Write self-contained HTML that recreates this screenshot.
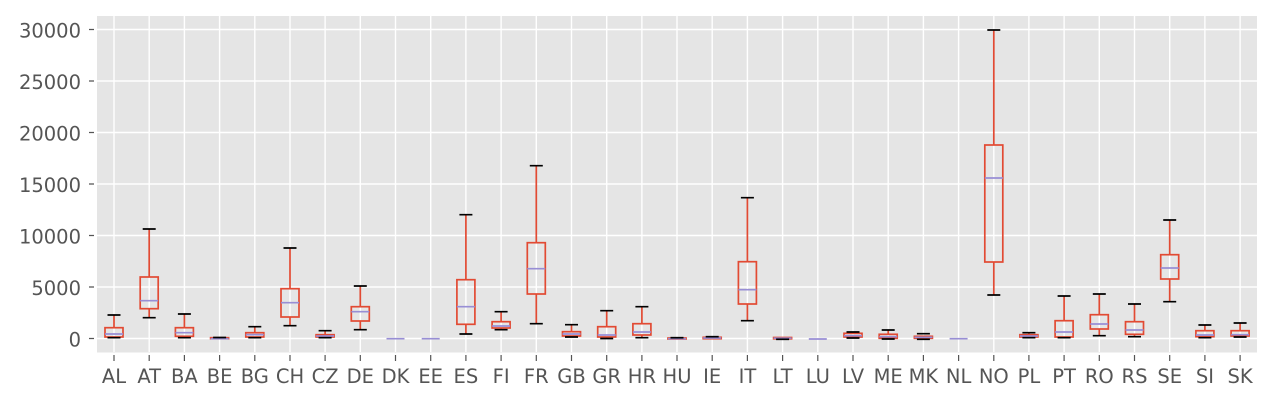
<!DOCTYPE html>
<html><head><meta charset="utf-8"><style>
html,body{margin:0;padding:0;background:#fff;}
svg{display:block;font-family:"DejaVu Sans","Liberation Sans",sans-serif;}
</style></head><body>
<svg width="1273" height="404" viewBox="0 0 1273 404" xmlns="http://www.w3.org/2000/svg">
<rect x="97" y="16" width="1160" height="336.5" fill="#E5E5E5"/>
<g stroke="#fff" stroke-width="1.4">
<line x1="97" x2="1257" y1="338.5" y2="338.5"/><line x1="97" x2="1257" y1="287" y2="287"/><line x1="97" x2="1257" y1="235.5" y2="235.5"/><line x1="97" x2="1257" y1="184" y2="184"/><line x1="97" x2="1257" y1="132.5" y2="132.5"/><line x1="97" x2="1257" y1="81" y2="81"/><line x1="97" x2="1257" y1="29.5" y2="29.5"/>
<line x1="114" x2="114" y1="16" y2="352"/><line x1="149.2" x2="149.2" y1="16" y2="352"/><line x1="184.4" x2="184.4" y1="16" y2="352"/><line x1="219.6" x2="219.6" y1="16" y2="352"/><line x1="254.8" x2="254.8" y1="16" y2="352"/><line x1="290" x2="290" y1="16" y2="352"/><line x1="325.1" x2="325.1" y1="16" y2="352"/><line x1="360.3" x2="360.3" y1="16" y2="352"/><line x1="395.5" x2="395.5" y1="16" y2="352"/><line x1="430.7" x2="430.7" y1="16" y2="352"/><line x1="465.9" x2="465.9" y1="16" y2="352"/><line x1="501.1" x2="501.1" y1="16" y2="352"/><line x1="536.3" x2="536.3" y1="16" y2="352"/><line x1="571.5" x2="571.5" y1="16" y2="352"/><line x1="606.7" x2="606.7" y1="16" y2="352"/><line x1="641.9" x2="641.9" y1="16" y2="352"/><line x1="677" x2="677" y1="16" y2="352"/><line x1="712.2" x2="712.2" y1="16" y2="352"/><line x1="747.4" x2="747.4" y1="16" y2="352"/><line x1="782.6" x2="782.6" y1="16" y2="352"/><line x1="817.8" x2="817.8" y1="16" y2="352"/><line x1="853" x2="853" y1="16" y2="352"/><line x1="888.2" x2="888.2" y1="16" y2="352"/><line x1="923.4" x2="923.4" y1="16" y2="352"/><line x1="958.6" x2="958.6" y1="16" y2="352"/><line x1="993.8" x2="993.8" y1="16" y2="352"/><line x1="1028.9" x2="1028.9" y1="16" y2="352"/><line x1="1064.1" x2="1064.1" y1="16" y2="352"/><line x1="1099.3" x2="1099.3" y1="16" y2="352"/><line x1="1134.5" x2="1134.5" y1="16" y2="352"/><line x1="1169.7" x2="1169.7" y1="16" y2="352"/><line x1="1204.9" x2="1204.9" y1="16" y2="352"/><line x1="1240.1" x2="1240.1" y1="16" y2="352"/>
</g>
<g stroke="#555" stroke-width="1.2">
<path d="M114 355V361M149.2 355V361M184.4 355V361M219.6 355V361M254.8 355V361M290 355V361M325.1 355V361M360.3 355V361M395.5 355V361M430.7 355V361M465.9 355V361M501.1 355V361M536.3 355V361M571.5 355V361M606.7 355V361M641.9 355V361M677 355V361M712.2 355V361M747.4 355V361M782.6 355V361M817.8 355V361M853 355V361M888.2 355V361M923.4 355V361M958.6 355V361M993.8 355V361M1028.9 355V361M1064.1 355V361M1099.3 355V361M1134.5 355V361M1169.7 355V361M1204.9 355V361M1240.1 355V361"/>
<path d="M89 338.5H94M89 287H94M89 235.5H94M89 184H94M89 132.5H94M89 81H94M89 29.5H94"/>
</g>
<g font-size="19.5" fill="#555" text-anchor="end">
<text x="81" y="346.5">0</text><text x="81" y="295">5000</text><text x="81" y="243.5">10000</text><text x="81" y="192">15000</text><text x="81" y="140.5">20000</text><text x="81" y="89">25000</text><text x="81" y="37.5">30000</text>
</g>
<g font-size="19.5" fill="#555" text-anchor="middle">
<text x="114" y="383">AL</text><text x="149.2" y="383">AT</text><text x="184.4" y="383">BA</text><text x="219.6" y="383">BE</text><text x="254.8" y="383">BG</text><text x="290" y="383">CH</text><text x="325.1" y="383">CZ</text><text x="360.3" y="383">DE</text><text x="395.5" y="383">DK</text><text x="430.7" y="383">EE</text><text x="465.9" y="383">ES</text><text x="501.1" y="383">FI</text><text x="536.3" y="383">FR</text><text x="571.5" y="383">GB</text><text x="606.7" y="383">GR</text><text x="641.9" y="383">HR</text><text x="677" y="383">HU</text><text x="712.2" y="383">IE</text><text x="747.4" y="383">IT</text><text x="782.6" y="383">LT</text><text x="817.8" y="383">LU</text><text x="853" y="383">LV</text><text x="888.2" y="383">ME</text><text x="923.4" y="383">MK</text><text x="958.6" y="383">NL</text><text x="993.8" y="383">NO</text><text x="1028.9" y="383">PL</text><text x="1064.1" y="383">PT</text><text x="1099.3" y="383">RO</text><text x="1134.5" y="383">RS</text><text x="1169.7" y="383">SE</text><text x="1204.9" y="383">SI</text><text x="1240.1" y="383">SK</text>
</g>
<g stroke-width="1.7" fill="none">
<g transform="translate(114,0)"><path stroke="#E24A33" d="M0 315V327.7M0 337V337.7"/><rect x="-9" y="327.7" width="18" height="9.3" stroke="#E24A33"/><path stroke="#988ED5" d="M-9 334H9"/><path stroke="#000" d="M-6.5 315H6.5M-6.5 337.7H6.5"/></g>
<g transform="translate(149.2,0)"><path stroke="#E24A33" d="M0 229V277M0 308.7V317.7"/><rect x="-9" y="277" width="18" height="31.7" stroke="#E24A33"/><path stroke="#988ED5" d="M-9 300.7H9"/><path stroke="#000" d="M-6.5 229H6.5M-6.5 317.7H6.5"/></g>
<g transform="translate(184.4,0)"><path stroke="#E24A33" d="M0 314V327.7M0 336.3V337.7"/><rect x="-9" y="327.7" width="18" height="8.6" stroke="#E24A33"/><path stroke="#988ED5" d="M-9 332.7H9"/><path stroke="#000" d="M-6.5 314H6.5M-6.5 337.7H6.5"/></g>
<g transform="translate(219.6,0)"><rect x="-9" y="337.7" width="18" height="1" stroke="#E24A33"/><path stroke="#988ED5" d="M-9 338.7H9"/><path stroke="#000" d="M-6.5 337.5H6.5"/></g>
<g transform="translate(254.8,0)"><path stroke="#E24A33" d="M0 326.7V332.7M0 337V337.7"/><rect x="-9" y="332.7" width="18" height="4.3" stroke="#E24A33"/><path stroke="#988ED5" d="M-9 334.7H9"/><path stroke="#000" d="M-6.5 326.7H6.5M-6.5 337.7H6.5"/></g>
<g transform="translate(290,0)"><path stroke="#E24A33" d="M0 248V288.7M0 317V325.7"/><rect x="-9" y="288.7" width="18" height="28.3" stroke="#E24A33"/><path stroke="#988ED5" d="M-9 302.7H9"/><path stroke="#000" d="M-6.5 248H6.5M-6.5 325.7H6.5"/></g>
<g transform="translate(325.1,0)"><path stroke="#E24A33" d="M0 330.7V334.7"/><rect x="-9" y="334.7" width="18" height="2.3" stroke="#E24A33"/><path stroke="#988ED5" d="M-9 336H9"/><path stroke="#000" d="M-6.5 330.7H6.5M-6.5 337.7H6.5"/></g>
<g transform="translate(360.3,0)"><path stroke="#E24A33" d="M0 286V306.7M0 321V329.7"/><rect x="-9" y="306.7" width="18" height="14.3" stroke="#E24A33"/><path stroke="#988ED5" d="M-9 311.7H9"/><path stroke="#000" d="M-6.5 286H6.5M-6.5 329.7H6.5"/></g>
<g transform="translate(395.5,0)"><path stroke="#988ED5" d="M-9 338.7H9"/></g>
<g transform="translate(430.7,0)"><path stroke="#988ED5" d="M-9 338.7H9"/></g>
<g transform="translate(465.9,0)"><path stroke="#E24A33" d="M0 214.7V279.7M0 324.3V334"/><rect x="-9" y="279.7" width="18" height="44.6" stroke="#E24A33"/><path stroke="#988ED5" d="M-9 306.7H9"/><path stroke="#000" d="M-6.5 214.7H6.5M-6.5 334H6.5"/></g>
<g transform="translate(501.1,0)"><path stroke="#E24A33" d="M0 311.7V321.7M0 328V329.7"/><rect x="-9" y="321.7" width="18" height="6.3" stroke="#E24A33"/><path stroke="#988ED5" d="M-9 326H9"/><path stroke="#000" d="M-6.5 311.7H6.5M-6.5 329.7H6.5"/></g>
<g transform="translate(536.3,0)"><path stroke="#E24A33" d="M0 165.7V242.7M0 294V323.7"/><rect x="-9" y="242.7" width="18" height="51.3" stroke="#E24A33"/><path stroke="#988ED5" d="M-9 268.7H9"/><path stroke="#000" d="M-6.5 165.7H6.5M-6.5 323.7H6.5"/></g>
<g transform="translate(571.5,0)"><path stroke="#E24A33" d="M0 324.7V331.7M0 336V337"/><rect x="-9" y="331.7" width="18" height="4.3" stroke="#E24A33"/><path stroke="#988ED5" d="M-9 334H9"/><path stroke="#000" d="M-6.5 324.7H6.5M-6.5 337H6.5"/></g>
<g transform="translate(606.7,0)"><path stroke="#E24A33" d="M0 310.7V326.7M0 337V338.7"/><rect x="-9" y="326.7" width="18" height="10.3" stroke="#E24A33"/><path stroke="#988ED5" d="M-9 335H9"/><path stroke="#000" d="M-6.5 310.7H6.5M-6.5 338.5H6.5"/></g>
<g transform="translate(641.9,0)"><path stroke="#E24A33" d="M0 306.7V323.7M0 335V337.7"/><rect x="-9" y="323.7" width="18" height="11.3" stroke="#E24A33"/><path stroke="#988ED5" d="M-9 332H9"/><path stroke="#000" d="M-6.5 306.7H6.5M-6.5 337.7H6.5"/></g>
<g transform="translate(677,0)"><rect x="-9" y="338" width="18" height="1" stroke="#E24A33"/><path stroke="#988ED5" d="M-9 338.7H9"/><path stroke="#000" d="M-6.5 337.7H6.5"/></g>
<g transform="translate(712.2,0)"><rect x="-9" y="337.3" width="18" height="1.4" stroke="#E24A33"/><path stroke="#988ED5" d="M-9 338H9"/><path stroke="#000" d="M-6.5 336.7H6.5"/></g>
<g transform="translate(747.4,0)"><path stroke="#E24A33" d="M0 197.7V261.7M0 304V320.7"/><rect x="-9" y="261.7" width="18" height="42.3" stroke="#E24A33"/><path stroke="#988ED5" d="M-9 289.7H9"/><path stroke="#000" d="M-6.5 197.7H6.5M-6.5 320.7H6.5"/></g>
<g transform="translate(782.6,0)"><rect x="-9" y="337.5" width="18" height="1.3" stroke="#E24A33"/><path stroke="#988ED5" d="M-9 338.2H9"/><path stroke="#000" d="M-6.5 339.3H6.5"/></g>
<g transform="translate(817.8,0)"><path stroke="#988ED5" d="M-9 339H9"/></g>
<g transform="translate(853,0)"><path stroke="#E24A33" d="M0 332V333.3"/><rect x="-9" y="333.3" width="18" height="3.7" stroke="#E24A33"/><path stroke="#988ED5" d="M-9 335.7H9"/><path stroke="#000" d="M-6.5 332H6.5M-6.5 338H6.5"/></g>
<g transform="translate(888.2,0)"><path stroke="#E24A33" d="M0 330V334.3"/><rect x="-9" y="334.3" width="18" height="4" stroke="#E24A33"/><path stroke="#988ED5" d="M-9 336.7H9"/><path stroke="#000" d="M-6.5 330H6.5M-6.5 339H6.5"/></g>
<g transform="translate(923.4,0)"><rect x="-9" y="336.3" width="18" height="2" stroke="#E24A33"/><path stroke="#988ED5" d="M-9 337.3H9"/><path stroke="#000" d="M-6.5 333.7H6.5M-6.5 339.3H6.5"/></g>
<g transform="translate(958.6,0)"><path stroke="#988ED5" d="M-9 338.7H9"/></g>
<g transform="translate(993.8,0)"><path stroke="#E24A33" d="M0 30V145M0 262V295"/><rect x="-9" y="145" width="18" height="117" stroke="#E24A33"/><path stroke="#988ED5" d="M-9 178H9"/><path stroke="#000" d="M-6.5 30H6.5M-6.5 295H6.5"/></g>
<g transform="translate(1028.9,0)"><path stroke="#E24A33" d="M0 332.7V334.7"/><rect x="-9" y="334.7" width="18" height="2.3" stroke="#E24A33"/><path stroke="#988ED5" d="M-9 336H9"/><path stroke="#000" d="M-6.5 332.7H6.5M-6.5 337.7H6.5"/></g>
<g transform="translate(1064.1,0)"><path stroke="#E24A33" d="M0 296V320.7"/><rect x="-9" y="320.7" width="18" height="16.3" stroke="#E24A33"/><path stroke="#988ED5" d="M-9 332H9"/><path stroke="#000" d="M-6.5 296H6.5M-6.5 337.7H6.5"/></g>
<g transform="translate(1099.3,0)"><path stroke="#E24A33" d="M0 294V314.7M0 329V335.7"/><rect x="-9" y="314.7" width="18" height="14.3" stroke="#E24A33"/><path stroke="#988ED5" d="M-9 324H9"/><path stroke="#000" d="M-6.5 294H6.5M-6.5 335.7H6.5"/></g>
<g transform="translate(1134.5,0)"><path stroke="#E24A33" d="M0 304V321.7M0 334.3V336.7"/><rect x="-9" y="321.7" width="18" height="12.6" stroke="#E24A33"/><path stroke="#988ED5" d="M-9 330H9"/><path stroke="#000" d="M-6.5 304H6.5M-6.5 336.7H6.5"/></g>
<g transform="translate(1169.7,0)"><path stroke="#E24A33" d="M0 220V254.7M0 279V301.7"/><rect x="-9" y="254.7" width="18" height="24.3" stroke="#E24A33"/><path stroke="#988ED5" d="M-9 268H9"/><path stroke="#000" d="M-6.5 220H6.5M-6.5 301.7H6.5"/></g>
<g transform="translate(1204.9,0)"><path stroke="#E24A33" d="M0 325V330.7"/><rect x="-9" y="330.7" width="18" height="6" stroke="#E24A33"/><path stroke="#988ED5" d="M-9 335H9"/><path stroke="#000" d="M-6.5 325H6.5M-6.5 337.7H6.5"/></g>
<g transform="translate(1240.1,0)"><path stroke="#E24A33" d="M0 323V330.7"/><rect x="-9" y="330.7" width="18" height="5.3" stroke="#E24A33"/><path stroke="#988ED5" d="M-9 334.7H9"/><path stroke="#000" d="M-6.5 323H6.5M-6.5 337H6.5"/></g>
</g>
</svg>
</body></html>
